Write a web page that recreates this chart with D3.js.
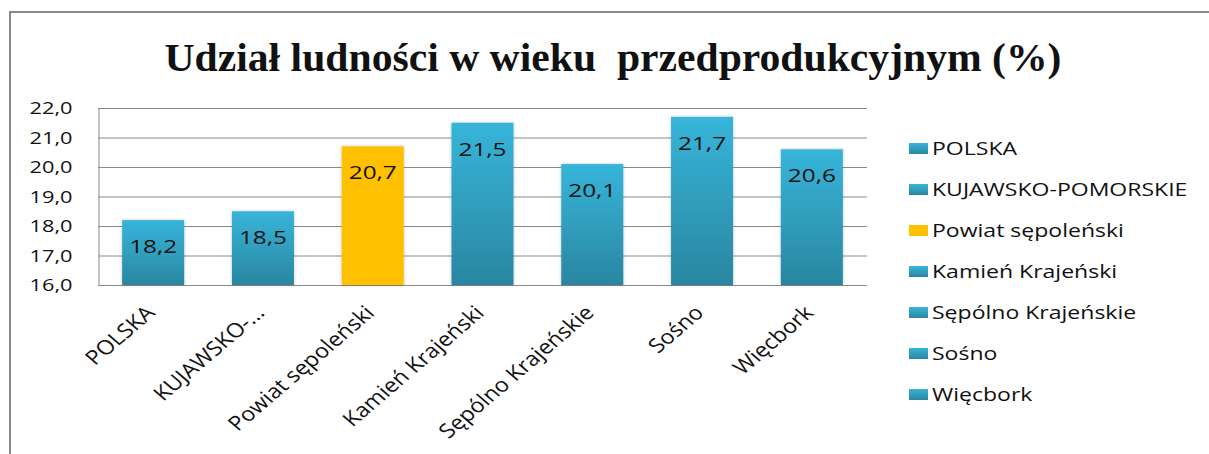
<!DOCTYPE html>
<html>
<head>
<meta charset="utf-8">
<script src="https://cdn.jsdelivr.net/npm/d3@7"></script>
<style>
  body { margin: 0; background: #fff; }
  svg text { font-family: "Open Sans", sans-serif; fill: #111; }
</style>
</head>
<body>
<div id="chart"></div>
<script>
// chart data
var categories = ["POLSKA", "KUJAWSKO-POMORSKIE", "Powiat sępoleński", "Kamień Krajeński",
                  "Sępólno Krajeńskie", "Sośno", "Więcbork"];
var axisLabels = ["POLSKA", "KUJAWSKO-...", "Powiat sępoleński", "Kamień Krajeński",
                  "Sępólno Krajeńskie", "Sośno", "Więcbork"];
var values = [18.2, 18.5, 20.7, 21.5, 20.1, 21.7, 20.6];
var yTicks = [16, 17, 18, 19, 20, 21, 22];
var highlighted = "Powiat sępoleński";
var title = "Udział ludności w wieku  przedprodukcyjnym (%)";

var W = 1209, H = 454;
var sx = 1.28; // the picture is drawn a bit wide

var svg = d3.select("#chart").append("svg")
  .attr("width", W).attr("height", H);

var defs = svg.append("defs");
var grad = defs.append("linearGradient").attr("id", "blue")
  .attr("x1", 0).attr("y1", 0).attr("x2", 0).attr("y2", 1);
grad.append("stop").attr("offset", "0%").attr("stop-color", "#37b5da");
grad.append("stop").attr("offset", "100%").attr("stop-color", "#2a86a0");

var shadow = defs.append("filter").attr("id", "shadow")
  .attr("x", "-20%").attr("y", "-20%").attr("width", "140%").attr("height", "140%");
shadow.append("feDropShadow").attr("dx", 0).attr("dy", 0)
  .attr("stdDeviation", 1.5).attr("flood-color", "#000").attr("flood-opacity", 0.25);

// outer frame (right and bottom run off the picture)
svg.append("rect").attr("x", 10).attr("y", 12).attr("width", W + 20).attr("height", H + 20)
  .attr("fill", "none").attr("stroke", "#878787").attr("stroke-width", 2);

// title
svg.append("text")
  .attr("x", 613).attr("y", 71)
  .attr("text-anchor", "middle")
  .attr("textLength", 897).attr("lengthAdjust", "spacingAndGlyphs")
  .style("font-family", "'Liberation Serif', 'Times New Roman', serif")
  .style("font-weight", "bold").style("font-size", "40px")
  .style("white-space", "pre")
  .text(title);

var plotL = 98, plotR = 867, plotT = 108, plotB = 285;

var x = d3.scaleBand().domain(categories).range([plotL, plotR]).paddingInner(0.435).paddingOuter(0.22);
var y = d3.scaleLinear().domain([16, 22]).range([plotB, plotT]);

// gridlines
svg.append("g").selectAll("line").data(yTicks).enter().append("line")
  .attr("x1", plotL).attr("x2", plotR)
  .attr("y1", function(d) { return y(d) + 0.5; })
  .attr("y2", function(d) { return y(d) + 0.5; })
  .attr("stroke", "#8a8a8a").attr("stroke-width", 1);

// y axis
var yAxis = svg.append("g").attr("transform", "translate(" + (plotL + 0.5) + ",0)")
  .call(d3.axisLeft(y).tickValues(yTicks).tickSize(0)
    .tickFormat(function(d) { return d3.format(".1f")(d).replace(".", ","); }));
yAxis.select(".domain").attr("stroke", "#8a8a8a");
yAxis.selectAll(".tick").attr("transform", null);
yAxis.selectAll("text")
  .style("font-size", "17px").attr("fill", "#111")
  .attr("text-anchor", "end")
  .attr("transform", function(d) { return "translate(-26," + y(d) + ") scale(" + sx + ",1)"; })
  .attr("x", 0).attr("y", 0).attr("dy", "0.36em");

// bars
var bars = svg.append("g").selectAll("g").data(categories).enter().append("g");
bars.append("rect")
  .attr("x", function(d) { return x(d); })
  .attr("y", function(d, i) { return y(values[i]); })
  .attr("width", x.bandwidth())
  .attr("height", function(d, i) { return y(16) - y(values[i]); })
  .attr("fill", function(d) { return d === highlighted ? "#ffc000" : "url(#blue)"; })
  .attr("filter", "url(#shadow)");

bars.append("text")
  .attr("text-anchor", "middle")
  .attr("transform", function(d, i) {
    return "translate(" + (x(d) + x.bandwidth() / 2) + "," + (y(values[i]) + 26) + ") scale(" + sx + ",1)";
  })
  .attr("dy", "0.36em")
  .style("font-size", "19px")
  .text(function(d, i) { return d3.format(".1f")(values[i]).replace(".", ","); });

// category labels, rotated
svg.append("g").selectAll("text").data(categories).enter().append("text")
  .attr("text-anchor", "end")
  .attr("transform", function(d) {
    return "translate(" + (x(d) + x.bandwidth() / 2 - 3) + "," + 309 + ") scale(1.17,1) rotate(-45)";
  })
  .attr("dy", "0.36em")
  .style("font-size", "20px")
  .text(function(d, i) { return axisLabels[i]; });

// legend
var legend = svg.append("g").selectAll("g").data(categories).enter().append("g")
  .attr("transform", function(d, i) { return "translate(909," + (149 + i * 41) + ")"; });
legend.append("rect")
  .attr("x", 0).attr("y", -6).attr("width", 19).attr("height", 11)
  .attr("fill", function(d) { return d === highlighted ? "#ffc000" : "url(#blue)"; });
legend.append("text")
  .attr("transform", "translate(23,0) scale(" + sx + ",1)")
  .attr("dy", "0.36em")
  .style("font-size", "18px")
  .text(function(d) { return d; });
</script>
</body>
</html>
